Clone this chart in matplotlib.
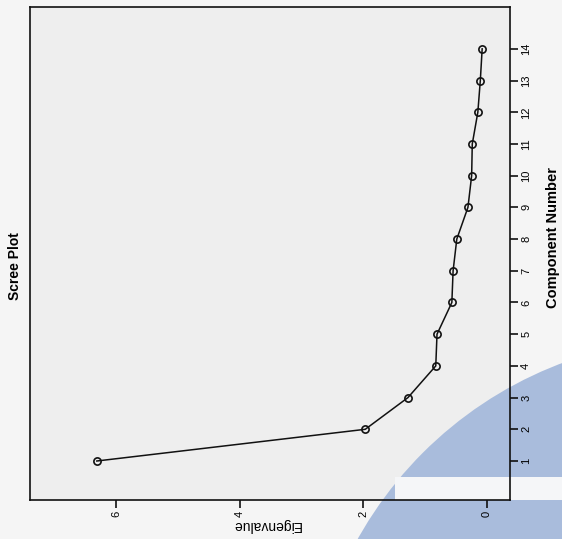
import matplotlib
matplotlib.use("Agg")
import matplotlib.pyplot as plt
from matplotlib.patches import Ellipse, Rectangle

# Data
components = [1, 2, 3, 4, 5, 6, 7, 8, 9, 10, 11, 12, 13, 14]
eigenvalues = [6.31, 1.97, 1.28, 0.83, 0.81, 0.57, 0.55, 0.49, 0.31, 0.25, 0.24, 0.15, 0.11, 0.08]
eigen_ticks = [6, 4, 2, 0]
title = "Scree Plot"
xlabel_text = "Component Number"
ylabel_text = "Eigenvalue"

plt.rcParams['font.family'] = ['Liberation Sans Narrow', 'Liberation Sans', 'DejaVu Sans']

W, H = 562, 539
fig = plt.figure(figsize=(W / 100, H / 100), dpi=100)
fig.patch.set_facecolor('#f5f5f5')

L, R, T, B = 30, 510, 7, 500
pos = [L / W, 1 - B / H, (R - L) / W, (B - T) / H]

# plot-area background
fig.patches.append(Rectangle((pos[0], pos[1]), pos[2], pos[3], transform=fig.transFigure,
                             facecolor='#eeeeee', edgecolor='none', zorder=-3))
# decorative blue arc shape (slide background)
cx, cy, r = 700, 730, 392
fig.patches.append(Ellipse((cx / W, 1 - cy / H), 2 * r / W, 2 * r / H, transform=fig.transFigure,
                           facecolor='#a9bcdc', edgecolor='none', zorder=-2))
fig.patches.append(Rectangle((395 / W, 1 - 500 / H), 1 - 395 / W, 23 / H, transform=fig.transFigure,
                             facecolor='#f5f6f8', edgecolor='none', zorder=-1))

ax = fig.add_axes(pos)
ax.set_facecolor('none')
ax.plot(eigenvalues, components, '-o', color='#111111', lw=1.1, ms=5.2, mfc='none',
        mec='#111111', mew=1.2)

ax.set_xlim(7.39, -0.37)
ax.set_ylim(-0.23, 15.32)

ax.yaxis.tick_right()
ax.set_yticks(components)
ax.set_yticklabels([str(c) for c in components], rotation=90, va='center', fontsize=8)
ax.set_xticks(eigen_ticks)
ax.set_xticklabels([str(t) for t in eigen_ticks], rotation=90, ha='center', fontsize=8)
ax.tick_params(axis='both', direction='out', length=6, width=1.2, color='#111111', pad=2)

for s in ax.spines.values():
    s.set_linewidth(1.2)
    s.set_color('#111111')

fig.text(15 / W, 1 - 266 / H, title, rotation=90, ha='center', va='center',
         fontweight='bold', fontsize=10)
fig.text(553 / W, 1 - 238 / H, xlabel_text, rotation=90, ha='center', va='center',
         fontweight='bold', fontsize=10.5)
fig.text(266 / W, 1 - 525 / H, ylabel_text, rotation=180, ha='center', va='center',
         fontsize=10)

fig.savefig('out.png', dpi=100, facecolor=fig.get_facecolor())
